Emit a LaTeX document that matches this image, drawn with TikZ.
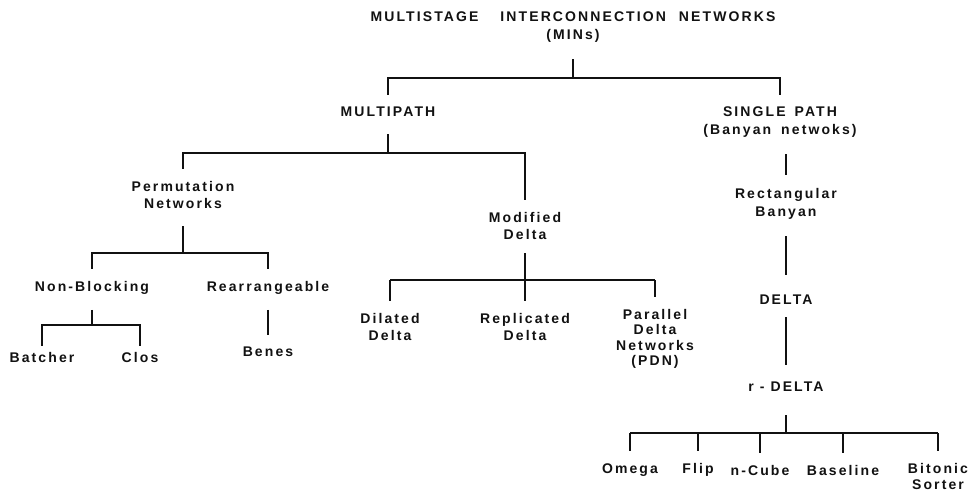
\documentclass[tikz,border=0pt]{standalone}
\usepackage{fontspec}
\usepackage{xcolor}
\usepackage{tikz}
\usetikzlibrary{calc}
\newfontfamily\minfont{Liberation Sans Bold}[LetterSpace=15]
\definecolor{ink}{HTML}{111111}
\tikzset{
  lbl/.style={font=\minfont\fontsize{14}{17.5}\selectfont,text=ink,align=center,inner sep=0pt},
  lbltight/.style={lbl,font=\minfont\fontsize{14}{15.5}\selectfont},
  link/.style={ink,line width=1.4pt},
  upgap/.style={shorten <=17pt},
  dngap/.style={shorten >=12pt}
}

\begin{document}
\begin{tikzpicture}[x=1pt,y=-1pt]
\useasboundingbox (0,0) rectangle (972,492);
% heights of the horizontal bars
\coordinate (b0) at (0,78);
\coordinate (b1) at (0,153);
\coordinate (b2) at (0,253);
\coordinate (b3) at (0,325);
\coordinate (b4) at (0,280);
\coordinate (b5) at (0,433);
% labels
\node[lbl] (mins) at (573,27) {MULTISTAGE\hspace{16pt} INTERCONNECTION\hspace{7pt} NETWORKS\\(MINs)};
\node[lbl] (multi) at (388,112) {MULTIPATH};
\node[lbl] (single) at (780,122) {SINGLE\hspace{3pt} PATH\\(Banyan\hspace{4pt} netwoks)};
\node[lbl] (perm) at (183,195) {Permutation\\Networks};
\node[lbl] (moddelta) at (525,226) {Modified\\Delta};
\node[lbl] (nonblock) at (92,288) {Non-Blocking};
\node[lbl] (rearr) at (268,288) {Rearrangeable};
\node[lbl] (batcher) at (42,357) {Batcher};
\node[lbl] (clos) at (140,357) {Clos};
\node[lbl] (benes) at (268,352) {Benes};
\node[lbl] (dilated) at (390,327) {Dilated\\Delta};
\node[lbl] (replicated) at (525,327) {Replicated\\Delta};
\node[lbltight] (pdn) at (655,339) {Parallel\\Delta\\Networks\\(PDN)};
\node[lbl] (rect) at (786,204) {Rectangular\\Banyan};
\node[lbl] (delta) at (786,300) {DELTA};
\node[lbl] (rdelta) at (786,387) {r - DELTA};
\node[lbl] (omega) at (630,470) {Omega};
\node[lbl] (flip) at (698,470) {Flip};
\node[lbl] (ncube) at (760,470) {n-Cube};
\node[lbl] (baseline) at (843,470) {Baseline};
\node[lbl,font=\minfont\fontsize{14}{16}\selectfont] (bitonic) at (938,476) {Bitonic\\Sorter};
% tree lines
\draw[link,upgap,dngap] (mins) -- (mins |- b0) -| (multi);
\draw[link,dngap] (mins |- b0) -| (single);
\draw[link,upgap,dngap] (multi) -- (multi |- b1) -| (perm);
\draw[link,dngap] (multi |- b1) -| (moddelta);
\draw[link,upgap,dngap] (perm) -- (perm |- b2) -| (nonblock);
\draw[link,dngap] (perm |- b2) -| (rearr);
\draw[link,shorten <=15pt,shorten >=6pt] (nonblock) -- (nonblock |- b3) -| (batcher);
\draw[link,shorten >=6pt] (nonblock |- b3) -| (clos);
\draw[link,shorten <=15pt,dngap] (rearr) -- (benes);
\draw[link,shorten <=13pt,dngap] (moddelta) -- (replicated);
\draw[link] (dilated |- b4) -- (pdn |- b4);
\foreach \n in {dilated,pdn} \draw[link,dngap] (\n |- b4) -- (\n);
\draw[link,upgap,shorten >=14pt] (rect |- single.south) -- (rect);
\draw[link,upgap,shorten >=20pt] (rect) -- (delta);
\draw[link,shorten <=12pt,shorten >=17pt] (delta) -- (rdelta);
\draw[link,shorten <=23pt] (rdelta) -- (rdelta |- b5);
\draw[link] (omega |- b5) -- (bitonic |- b5);
\foreach \n in {omega,flip,ncube,baseline,bitonic} \draw[link,dngap] (\n |- b5) -- (\n);
\end{tikzpicture}
\end{document}
